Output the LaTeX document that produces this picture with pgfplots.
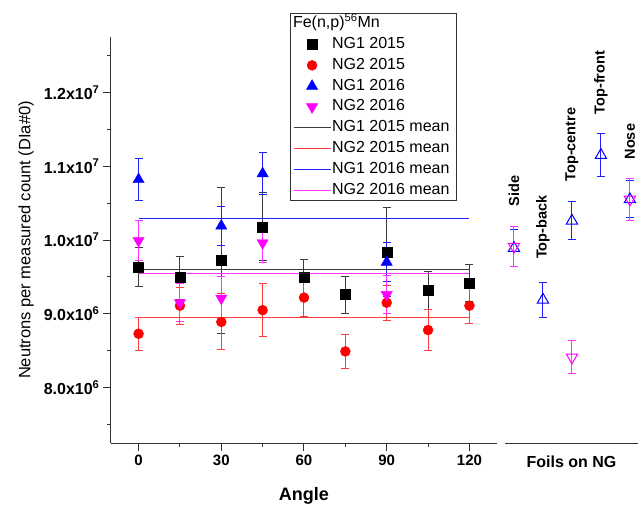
\documentclass[border=0pt]{standalone}
\usepackage{fontspec}
\setmainfont{Liberation Sans}
\usepackage{pgfplots}
\pgfplotsset{compat=1.18}
\definecolor{ngmag}{RGB}{255,0,255}
\definecolor{mblack}{RGB}{60,60,60}
\definecolor{mred}{RGB}{255,60,60}
\definecolor{mblue}{RGB}{30,30,255}
\definecolor{mmag}{RGB}{255,50,255}
\begin{document}
\begin{tikzpicture}
\path[use as bounding box] (-111pt,-66pt) rectangle (532pt,443pt);
\begin{axis}[
  name=left, at={(0,0)}, anchor=south west,
  scale only axis, width=386pt, height=406pt,
  xmin=-10, xmax=130, ymin=7.25e6, ymax=1.275e7,
  axis x line=bottom, axis y line=left,
  axis line style={-, black!80, line width=1pt},
  tick align=outside,
  major tick length=8pt, minor tick length=4pt,
  every tick/.style={black!80, line width=1pt},
  xtick={0,30,60,90,120}, minor xtick={15,45,75,105},
  ytick={8e6,9e6,1e7,1.1e7,1.2e7},
  minor ytick={7.5e6,8.5e6,9.5e6,1.05e7,1.15e7,1.25e7},
  scaled y ticks=false,
  yticklabels={8.0x10\textsuperscript{6},9.0x10\textsuperscript{6},1.0x10\textsuperscript{7},1.1x10\textsuperscript{7},1.2x10\textsuperscript{7}},
  xticklabel style={font=\fontsize{15}{18}\selectfont\bfseries},
  yticklabel style={font=\fontsize{16}{19}\selectfont\bfseries},
  /pgf/number format/assume math mode=true,
  xlabel={Angle},
  xlabel style={at={(axis description cs:0.5,-0.1305)}, anchor=center, font=\fontsize{18}{21}\selectfont\bfseries},
  ylabel={Neutrons per measured count (DIa\#0)},
  ylabel style={at={(axis description cs:-0.22,0.5)}, anchor=center, font=\fontsize{16.5}{19}\selectfont},
  clip=false,
  legend style={at={(0.466,1.059)}, anchor=north west, draw=none, fill=none,
    font=\fontsize{16}{18}\selectfont, inner xsep=2pt, inner ysep=2pt, row sep=3.8pt,
    nodes={inner sep=1pt, text height=11.5pt, text depth=3.5pt}},
  legend cell align=left,
  legend image code/.code={\draw[mark repeat=2,mark phase=2] plot coordinates {(0cm,0cm) (0.65cm,0cm) (1.3cm,0cm)};},
]
\addlegendimage{empty legend}
\addlegendentry{\hspace*{-39pt}Fe(n,p)\textsuperscript{56}Mn}

% NG1 2015
\addplot[only marks, mark=square*, mark size=5pt, color=black,
  error bars/.cd, y dir=both, y explicit,
  error bar style={line width=1pt, mblack},
  error mark options={rotate=90, mark size=4pt, line width=1pt, mblack}]
coordinates {
  (0,9.635e6) +- (0,0.26e6)
  (15,9.49e6) +- (0,0.29e6)
  (30,9.72e6) +- (0,0.985e6)
  (45,10.18e6) +- (0,0.46e6)
  (60,9.49e6) +- (0,0.25e6)
  (75,9.26e6) +- (0,0.25e6)
  (90,9.84e6) +- (0,0.6e6)
  (105,9.32e6) +- (0,0.255e6)
  (120,9.42e6) +- (0,0.25e6)
};
\addlegendentry{NG1 2015}

% NG2 2015
\addplot[only marks, mark=*, mark size=5pt, color=red,
  error bars/.cd, y dir=both, y explicit,
  error bar style={line width=1pt, mred},
  error mark options={rotate=90, mark size=4pt, line width=1pt, mred}]
coordinates {
  (0,8.73e6) +- (0,0.225e6)
  (15,9.11e6) +- (0,0.25e6)
  (30,8.89e6) +- (0,0.38e6)
  (45,9.05e6) +- (0,0.355e6)
  (60,9.22e6) +- (0,0.25e6)
  (75,8.49e6) +- (0,0.225e6)
  (90,9.15e6) +- (0,0.24e6)
  (105,8.78e6) +- (0,0.28e6)
  (120,9.11e6) +- (0,0.24e6)
};
\addlegendentry{NG2 2015}

% NG1 2016
\addplot[only marks, mark=triangle*, mark size=6.5pt, color=blue,
  error bars/.cd, y dir=both, y explicit,
  error bar style={line width=1pt, mblue},
  error mark options={rotate=90, mark size=4pt, line width=1pt, mblue}]
coordinates {
  (0,10.82e6) +- (0,0.29e6)
  (30,10.19e6) +- (0,0.27e6)
  (45,10.9e6) +- (0,0.29e6)
  (90,9.70e6) +- (0,0.26e6)
};
\addlegendentry{NG1 2016}

% NG2 2016
\addplot[only marks, mark=triangle*, mark options={rotate=180}, mark size=6.5pt, color=ngmag,
  error bars/.cd, y dir=both, y explicit,
  error bar style={line width=1pt, mmag},
  error mark options={rotate=90, mark size=4pt, line width=1pt, mmag}]
coordinates {
  (0,9.99e6) +- (0,0.27e6)
  (15,9.15e6) +- (0,0.26e6)
  (30,9.21e6) +- (0,0.3e6)
  (45,9.96e6) +- (0,0.26e6)
  (90,9.26e6) +- (0,0.26e6)
};
\addlegendentry{NG2 2016}

% means
\addplot[color=mblack, line width=1pt, no markers] coordinates {(0,9.6e6) (120,9.6e6)};
\addlegendentry{NG1 2015 mean}
\addplot[color=mred, line width=1pt, no markers] coordinates {(0,8.95e6) (120,8.95e6)};
\addlegendentry{NG2 2015 mean}
\addplot[color=mblue, line width=1pt, no markers] coordinates {(0,10.285e6) (120,10.285e6)};
\addlegendentry{NG1 2016 mean}
\addplot[color=mmag, line width=1pt, no markers] coordinates {(0,9.55e6) (120,9.55e6)};
\addlegendentry{NG2 2016 mean}

% legend frame
\draw[black!80, line width=0.9pt] (rel axis cs:0.466,0.598) rectangle (rel axis cs:0.894,1.059);
\end{axis}

\begin{axis}[
  at={(394pt,0)}, anchor=south west,
  scale only axis, width=133pt, height=406pt,
  xmin=0.69, xmax=5.28, ymin=7.25e6, ymax=1.275e7,
  axis x line=bottom, axis y line=none,
  axis line style={-, black!80, line width=1pt},
  xtick=\empty, ytick=\empty,
  xlabel={Foils on NG},
  xlabel style={at={(axis description cs:0.5,-0.047)}, anchor=center, font=\fontsize{16}{19}\selectfont\bfseries},
  clip=false,
]
\addplot[only marks, mark=triangle, mark size=6.5pt, color=blue, mark options={line width=1pt},
  error bars/.cd, y dir=both, y explicit,
  error bar style={line width=1pt, mblue},
  error mark options={rotate=90, mark size=4pt, line width=1pt, mblue}]
coordinates {
  (1,9.89e6) +- (0,0.25e6)
  (2,9.19e6) +- (0,0.24e6)
  (3,10.26e6) +- (0,0.26e6)
  (4,11.15e6) +- (0,0.29e6)
  (5,10.55e6) +- (0,0.25e6)
};
\addplot[only marks, mark=triangle, mark size=6.5pt, color=ngmag, mark options={rotate=180, line width=1pt},
  error bars/.cd, y dir=both, y explicit,
  error bar style={line width=1pt, mmag},
  error mark options={rotate=90, mark size=4pt, line width=1pt, mmag}]
coordinates {
  (1,9.91e6) +- (0,0.27e6)
  (3,8.41e6) +- (0,0.225e6)
  (5,10.55e6) +- (0,0.285e6)
};
\node[rotate=90, anchor=west, inner sep=0pt, font=\fontsize{14.5}{17}\selectfont\bfseries] at (axis cs:1,10.455e6) {Side};
\node[rotate=90, anchor=west, inner sep=0pt, font=\fontsize{14.5}{17}\selectfont\bfseries] at (axis cs:2,9.74e6) {Top-back};
\node[rotate=90, anchor=west, inner sep=0pt, font=\fontsize{14.5}{17}\selectfont\bfseries] at (axis cs:3,10.79e6) {Top-centre};
\node[rotate=90, anchor=west, inner sep=0pt, font=\fontsize{14.5}{17}\selectfont\bfseries] at (axis cs:4,11.70e6) {Top-front};
\node[rotate=90, anchor=west, inner sep=0pt, font=\fontsize{14.5}{17}\selectfont\bfseries] at (axis cs:5,11.09e6) {Nose};
\end{axis}
\end{tikzpicture}
\end{document}
